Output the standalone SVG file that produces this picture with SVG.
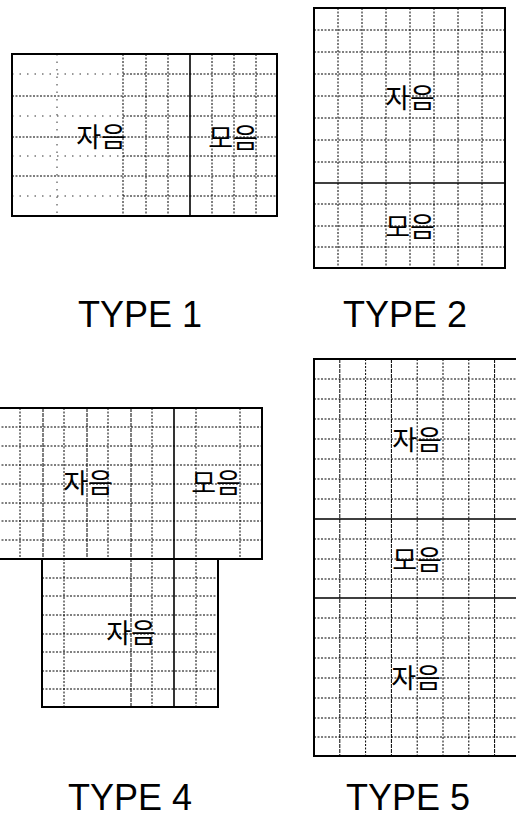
<svg xmlns="http://www.w3.org/2000/svg" width="516" height="820" viewBox="0 0 516 820">
<style>
.bg{fill:#fff}
.b{fill:none;stroke:#000;stroke-width:2}
.d{fill:none;stroke:#000;stroke-width:1.6}
.g{fill:none;stroke:#000;stroke-width:1;stroke-dasharray:2 1.5}
.gs{fill:none;stroke:#000;stroke-width:1;stroke-dasharray:4 1}
.sp{fill:none;stroke:#333;stroke-width:1;stroke-dasharray:1.5 6}
.k{font-family:"Noto Sans CJK KR","Noto Sans",sans-serif;font-size:27px;text-anchor:middle;fill:#000}
.t{font-family:"Liberation Sans",Arial,sans-serif;font-size:36px;fill:#000}
</style>
<rect class="bg" x="0" y="0" width="516" height="820"/>
<g id="type1">
  <path class="sp" d="M57 54V216 M12 74H123 M12 116H123 M12 156H123 M12 196H123"/>
  <path class="g" d="M12 96H277 M12 137H277 M12 176H277 M123 74H277 M123 116H277 M123 156H277 M123 196H277 M123 54V216 M146 54V216 M168 54V216 M212 54V216 M234 54V216 M256 54V216"/>
  <rect class="b" x="12" y="54" width="265" height="162"/>
  <path class="d" d="M190 54V216"/>
  <text class="k" x="101" y="147">자음</text>
  <text class="k" x="233" y="148">모음</text>
  <text class="t" x="78" y="327">TYPE 1</text>
</g>
<g id="type2">
  <path class="g" d="M338 8V268 M362 8V268 M386 8V268 M410 8V268 M434 8V268 M458 8V268 M482 8V268 M314 30H505 M314 52H505 M314 74H505 M314 96H505 M314 118H505 M314 140H505 M314 162H505 M314 204H505 M314 226H505 M314 247H505"/>
  <rect class="b" x="314" y="8" width="191" height="260"/>
  <path class="d" d="M314 183H505"/>
  <text class="k" x="410" y="108">자음</text>
  <text class="k" x="410" y="237">모음</text>
  <text class="t" x="343" y="327">TYPE 2</text>
</g>
<g id="type4">
  <path class="g" d="M20 408V559 M64 408V707 M108 408V559 M152 408V707 M196 408V707 M240 408V559 M-2 427H262 M-2 446H262 M-2 465H262 M-2 484H262 M-2 503H262 M-2 521H262 M-2 540H262 M42 578H218 M42 596H218 M42 615H218 M42 634H218 M42 652H218 M42 671H218 M42 689H218"/>
  <path class="gs" d="M43 408V559 M87 408V559 M131 408V707"/>
  <path class="b" d="M-2 408H262V559H-2 M42 559V707H218V559"/>
  <path class="d" d="M174 408V707"/>
  <text class="k" x="88" y="493">자음</text>
  <text class="k" x="216" y="493">모음</text>
  <text class="k" x="131" y="643">자음</text>
  <text class="t" x="68" y="810">TYPE 4</text>
</g>
<g id="type5">
  <path class="g" d="M365.6 359V756 M417.2 359V756 M443 359V756 M468.8 359V756 M314 379H520 M314 399H520 M314 419H520 M314 439H520 M314 459H520 M314 479H520 M314 499H520 M314 539H520 M314 559H520 M314 579H520 M314 618H520 M314 638H520 M314 658H520 M314 678H520 M314 698H520 M314 718H520 M314 737H520"/>
  <path class="gs" d="M339.8 359V756 M391.4 359V756 M494.6 359V756"/>
  <path class="b" d="M520 359H314V756H520"/>
  <path class="d" d="M314 519H520 M314 598H520"/>
  <text class="k" x="417" y="450">자음</text>
  <text class="k" x="417" y="570">모음</text>
  <text class="k" x="416" y="688">자음</text>
  <text class="t" x="346" y="810">TYPE 5</text>
</g>
</svg>
